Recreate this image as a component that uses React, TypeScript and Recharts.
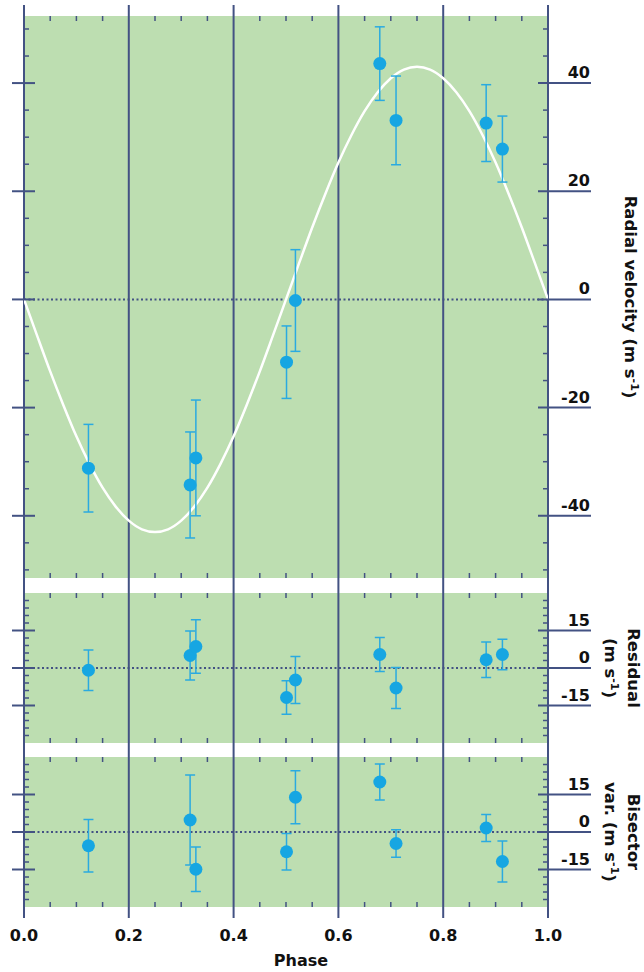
import React from 'react';
import {
  ComposedChart,
  Scatter,
  Line,
  XAxis,
  YAxis,
  CartesianGrid,
  ReferenceLine,
  ErrorBar,
} from 'recharts';

// measured points, shared phase for all three panels
const phase = [0.123, 0.317, 0.328, 0.501, 0.518, 0.679, 0.71, 0.882, 0.913];
const rv = [-31.2, -34.3, -29.3, -11.6, -0.2, 43.6, 33.1, 32.6, 27.8];
const rvErr = [8.1, 9.8, 10.7, 6.7, 9.4, 6.8, 8.2, 7.1, 6.1];
const residual = [-0.9, 5.0, 8.6, -11.8, -4.8, 5.4, -8.0, 3.3, 5.4];
const bisector = [-5.5, 4.8, -14.9, -7.9, 13.9, 20.0, -4.6, 1.6, -11.8];
const bisectorErr = [10.5, 18, 8.9, 7.3, 10.6, 7.2, 5.5, 5.4, 8.2];

// fitted orbit curve
const curvePhase = [
  0, 0.025, 0.05, 0.075, 0.1, 0.125, 0.15, 0.175, 0.2, 0.225, 0.25, 0.275, 0.3, 0.325,
  0.35, 0.375, 0.4, 0.425, 0.45, 0.475, 0.5, 0.525, 0.55, 0.575, 0.6, 0.625, 0.65, 0.675,
  0.7, 0.725, 0.75, 0.775, 0.8, 0.825, 0.85, 0.875, 0.9, 0.925, 0.95, 0.975, 1,
];
const curveRv = [
  0, -6.7, -13.3, -19.5, -25.3, -30.4, -34.8, -38.3, -40.9, -42.5, -43, -42.5, -40.9, -38.3,
  -34.8, -30.4, -25.3, -19.5, -13.3, -6.7, 0, 6.7, 13.3, 19.5, 25.3, 30.4, 34.8, 38.3,
  40.9, 42.5, 43, 42.5, 40.9, 38.3, 34.8, 30.4, 25.3, 19.5, 13.3, 6.7, 0,
];

const phaseTicks = [0, 0.2, 0.4, 0.6, 0.8, 1];
const phaseMinor = [
  0.05, 0.1, 0.15, 0.25, 0.3, 0.35, 0.45, 0.5, 0.55, 0.65, 0.7, 0.75, 0.85, 0.9, 0.95,
];
const rvTicks = [-50, -45, -40, -35, -30, -25, -20, -15, -10, -5, 0, 5, 10, 15, 20, 25, 30, 35, 40, 45, 50];
const rvMajor = [-40, -20, 0, 20, 40];
const smallTicks = [-27, -24, -21, -18, -15, -12, -9, -6, -3, 0, 3, 6, 9, 12, 15, 18, 21, 24, 27];
const smallMajor = [-15, 0, 15];

const NAVY = '#435283';
const GREEN = '#bddeb1';
const DOT = '#16a6e2';
const ERR = '#2aaae0';
const FONT = '"DejaVu Sans", sans-serif';
const W = 644;
const H = 972;

const rvData = phase.map((x, i) => ({ x, y: rv[i], e: rvErr[i] }));
const residData = phase.map((x, i) => ({ x, y: residual[i], e: rvErr[i] }));
const bisData = phase.map((x, i) => ({ x, y: bisector[i], e: bisectorErr[i] }));
const curveData = curvePhase.map((x, i) => ({ x, y: curveRv[i] }));
const frameData = phaseTicks.map((x) => ({ x, y: 0 }));

const Dot = (p: any) => <circle cx={p.cx} cy={p.cy} r={6.5} fill={DOT} />;

const Title = ({ viewBox, lines }: any) => {
  if (!viewBox) return null;
  const cy = viewBox.y + viewBox.height / 2;
  const x0 = viewBox.x;
  const xs = lines.length === 1 ? [x0 + 82] : [x0 + 85, x0 + 62];
  return (
    <g>
      {lines.map((t: string, i: number) => {
        const hasUnit = t.endsWith('(m s');
        return (
          <text
            key={i}
            x={xs[i]}
            y={cy}
            transform={`rotate(90, ${xs[i]}, ${cy})`}
            textAnchor="middle"
            dominantBaseline="central"
            fontFamily={FONT}
            fontWeight={700}
            fontSize={16.5}
            fill="#111"
          >
            {t}
            {hasUnit && (
              <>
                <tspan dy={-5} fontSize={11}>-1</tspan>
                <tspan dy={5}>)</tspan>
              </>
            )}
          </text>
        );
      })}
    </g>
  );
};

type PanelProps = {
  top: number;
  bottom: number;
  domain: [number, number];
  yTicks: number[];
  majors: number[];
  data: { x: number; y: number; e: number }[];
  curve?: { x: number; y: number }[];
  title: string[];
};

const Panel = ({ top, bottom, domain, yTicks, majors, data, curve, title }: PanelProps) => {
  const leftTick = ({ x, y, payload }: any) =>
    majors.includes(payload.value) ? (
      <line x1={x - 12} x2={x + 11} y1={y} y2={y} stroke={NAVY} strokeWidth={2} />
    ) : (
      <line x1={x} x2={x + 5} y1={y} y2={y} stroke={NAVY} strokeWidth={1.5} />
    );
  const rightTick = ({ x, y, payload }: any) =>
    majors.includes(payload.value) ? (
      <g>
        <line x1={x - 10} x2={x + 43} y1={y} y2={y} stroke={NAVY} strokeWidth={2} />
        <text x={x + 42} y={y - 5} textAnchor="end" fontFamily={FONT} fontWeight={700} fontSize={16} fill="#111">
          {payload.value}
        </text>
      </g>
    ) : (
      <line x1={x - 5} x2={x} y1={y} y2={y} stroke={NAVY} strokeWidth={1.5} />
    );
  const bottomTick = ({ x, y }: any) => <line x1={x} x2={x} y1={y} y2={y - 5} stroke={NAVY} strokeWidth={1.5} />;
  const topTick = ({ x, y }: any) => <line x1={x} x2={x} y1={y} y2={y + 5} stroke={NAVY} strokeWidth={1.5} />;

  // axes get 1px of room so that recharts actually draws them
  return (
    <div style={{ position: 'absolute', left: 0, top: 0 }}>
      <ComposedChart width={W} height={H} margin={{ top: top - 1, bottom: H - bottom - 1, left: 23, right: 95 }}>
        <CartesianGrid horizontal={false} vertical={false} fill={GREEN} stroke="none" />
        <XAxis
          type="number"
          dataKey="x"
          domain={[0, 1]}
          allowDataOverflow
          ticks={phaseMinor}
          interval={0}
          height={1}
          tickSize={0}
          tickMargin={0}
          tickLine={false}
          axisLine={false}
          tick={bottomTick}
        />
        <XAxis
          xAxisId="t"
          orientation="top"
          type="number"
          dataKey="x"
          domain={[0, 1]}
          allowDataOverflow
          ticks={phaseMinor}
          interval={0}
          height={1}
          tickSize={0}
          tickMargin={0}
          tickLine={false}
          axisLine={false}
          tick={topTick}
        />
        <YAxis
          type="number"
          dataKey="y"
          domain={domain}
          allowDataOverflow
          ticks={yTicks}
          interval={0}
          width={1}
          tickSize={0}
          tickMargin={0}
          tickLine={false}
          axisLine={false}
          tick={leftTick}
        />
        <YAxis
          yAxisId="r"
          orientation="right"
          type="number"
          dataKey="y"
          domain={domain}
          allowDataOverflow
          ticks={yTicks}
          interval={0}
          width={1}
          tickSize={0}
          tickMargin={0}
          tickLine={false}
          axisLine={false}
          tick={rightTick}
          label={<Title lines={title} />}
        />
        {phaseTicks.map((v) => (
          <ReferenceLine key={v} x={v} stroke={NAVY} strokeWidth={2} />
        ))}
        <ReferenceLine y={0} stroke={NAVY} strokeWidth={2} strokeDasharray="2 2.5" />
        {curve && (
          <Line
            data={curve}
            dataKey="y"
            type="monotone"
            stroke="#ffffff"
            strokeWidth={2.5}
            dot={false}
            activeDot={false}
            isAnimationActive={false}
          />
        )}
        <Scatter data={data} dataKey="y" shape={Dot} isAnimationActive={false}>
          <ErrorBar dataKey="e" direction="y" width={5} stroke={ERR} strokeWidth={1.5} isAnimationActive={false} />
        </Scatter>
      </ComposedChart>
    </div>
  );
};

const PhaseLabel = () => (
  <text x={301} y={966} textAnchor="middle" fontFamily={FONT} fontWeight={700} fontSize={16} fill="#111">
    Phase
  </text>
);

const App = () => {
  return (
    <div style={{ position: 'absolute', left: 0, top: 0, width: W, height: H, background: '#fff', fontFamily: FONT }}>
      {/* frame: vertical lines through the gaps + phase axis */}
      <div style={{ position: 'absolute', left: 0, top: 0 }}>
        <ComposedChart width={W} height={H} data={frameData} margin={{ top: 5, bottom: 0, left: 24, right: 96 }}>
          <XAxis
            type="number"
            dataKey="x"
            domain={[0, 1]}
            ticks={phaseTicks}
            interval={0}
            height={54}
            tickSize={0}
            tickMargin={12}
            tickLine={false}
            axisLine={false}
            tickFormatter={(v: number) => v.toFixed(1)}
            tick={{ fontSize: 16, fontWeight: 700, fill: '#111', fontFamily: FONT }}
            label={<PhaseLabel />}
          />
          <YAxis hide type="number" dataKey="y" domain={[-1, 1]} />
          {phaseTicks.map((v) => (
            <ReferenceLine key={v} x={v} stroke={NAVY} strokeWidth={2} />
          ))}
        </ComposedChart>
      </div>
      <Panel
        top={16}
        bottom={578}
        domain={[-51.5, 52.4]}
        yTicks={rvTicks}
        majors={rvMajor}
        data={rvData}
        curve={curveData}
        title={['Radial velocity (m s']}
      />
      <Panel
        top={593}
        bottom={743}
        domain={[-30, 30]}
        yTicks={smallTicks}
        majors={smallMajor}
        data={residData}
        title={['Residual', '(m s']}
      />
      <Panel
        top={757}
        bottom={907}
        domain={[-30, 30]}
        yTicks={smallTicks}
        majors={smallMajor}
        data={bisData}
        title={['Bisector', 'var. (m s']}
      />
    </div>
  );
};

export default App;
